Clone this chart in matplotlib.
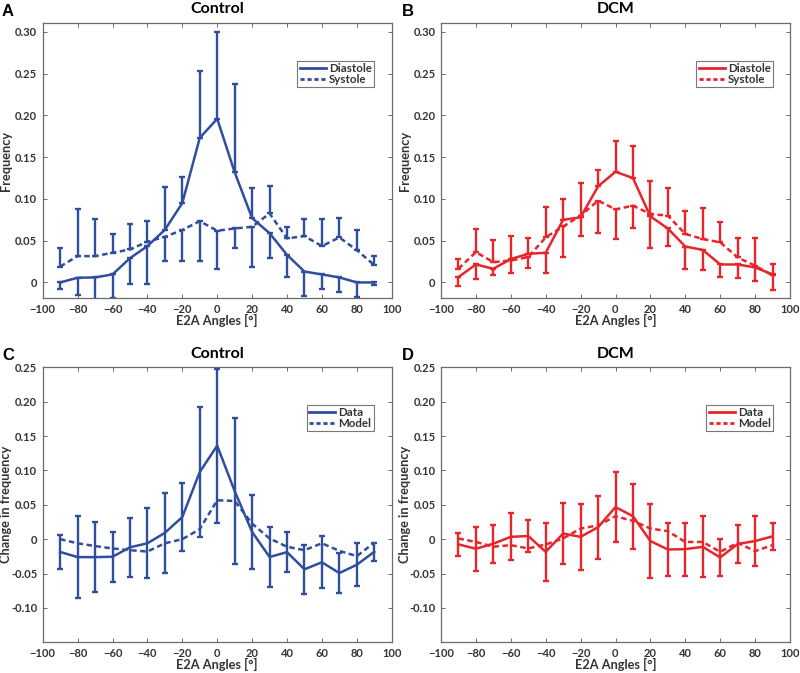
import matplotlib
matplotlib.use("Agg")
import matplotlib.pyplot as plt
import numpy as np
from matplotlib.lines import Line2D

plt.rcParams['font.family'] = ['Lato', 'DejaVu Sans']

angles = np.arange(-90, 91, 10)

# Panel A (Control): Diastole / Systole frequency; signed error (+ up, - down)
a_dia = [0.000, 0.0056, 0.006, 0.0096, 0.029, 0.0435, 0.063, 0.095, 0.173, 0.196,
         0.132, 0.077, 0.059, 0.033, 0.013, 0.0096, 0.006, 0.0, 0.0]
a_dia_err = [-0.008, -0.021, -0.03, -0.028, -0.031, -0.0455, 0.0515, 0.031, 0.080, 0.104,
             0.106, 0.0355, -0.0303, -0.026, -0.029, -0.0172, -0.018, -0.018, -0.003]
a_sys = [0.019, 0.0315, 0.0315, 0.0355, 0.0395, 0.0487, 0.0547, 0.0627, 0.0734, 0.0619,
         0.0646, 0.0666, 0.0826, 0.0527, 0.0555, 0.0435, 0.0539, 0.0387, 0.0208]
a_sys_err = [0.0225, 0.056, 0.044, 0.022, 0.030, 0.0247, -0.029, -0.037, -0.048, -0.046,
             -0.023, -0.048, 0.033, 0.014, 0.020, 0.033, 0.0235, 0.024, 0.0107]

# Panel B (DCM)
b_dia = [0.0064, 0.0215, 0.0164, 0.028, 0.0343, 0.0355, 0.075, 0.078, 0.115, 0.1325,
         0.125, 0.079, 0.0646, 0.043, 0.039, 0.0215, 0.0215, 0.018, 0.0096]
b_dia_err = [-0.0104, -0.017, -0.008, 0.027, 0.019, -0.0243, 0.0247, -0.023, 0.020, 0.037,
             0.038, -0.0375, -0.0207, -0.027, -0.024, -0.0144, -0.0164, -0.016, 0.0128]
b_sys = [0.0164, 0.0363, 0.0243, 0.0263, 0.0303, 0.054, 0.067, 0.080, 0.098, 0.0874,
         0.092, 0.082, 0.080, 0.058, 0.052, 0.048, 0.030, 0.020, 0.0084]
b_sys_err = [0.012, 0.028, 0.027, -0.015, -0.013, 0.036, -0.036, 0.039, -0.039, -0.0355,
             -0.027, 0.039, 0.0335, 0.027, 0.037, 0.024, 0.0227, 0.0335, -0.018]

# Panel C (Control): change in frequency, data (symmetric error) and model
c_data = [-0.0186, -0.0261, -0.0261, -0.0256, -0.0118, -0.006, 0.0092, 0.0322, 0.0977, 0.136,
          0.070, 0.0106, -0.0259, -0.0189, -0.0438, -0.0336, -0.0493, -0.0372, -0.0184]
c_err = [0.0249, 0.060, 0.0513, 0.0363, 0.0428, 0.051, 0.058, 0.049, 0.095, 0.112,
         0.1066, 0.0537, 0.0433, 0.0295, 0.036, 0.038, 0.0295, 0.031, 0.0135]
c_model = [0.0, -0.006, -0.010, -0.0135, -0.016, -0.018, -0.006, 0.0, 0.0145, 0.0566,
           0.0556, 0.0227, 0.001, -0.011, -0.016, -0.006, -0.017, -0.0247, -0.005]

# Panel D (DCM)
d_data = [-0.0075, -0.014, -0.0065, 0.0034, 0.0046, -0.0184, 0.0082, 0.0034, 0.0174, 0.0467,
          0.0334, -0.0027, -0.015, -0.0145, -0.0111, -0.0266, -0.007, -0.0027, 0.0041]
d_err = [0.0172, 0.032, 0.0278, 0.034, 0.023, 0.0426, 0.0445, 0.048, 0.046, 0.0505,
         0.047, 0.0534, 0.0387, 0.0387, 0.0445, 0.0266, 0.0283, 0.036, 0.020]
d_model = [0.001, -0.004, -0.011, -0.0087, -0.0135, -0.0077, 0.001, 0.0155, 0.020, 0.0334,
           0.0266, 0.0155, 0.0116, -0.004, -0.004, -0.0184, -0.0053, -0.0174, -0.0087]

xticks = list(range(-100, 101, 20))
freq_ticks = [0, 0.05, 0.10, 0.15, 0.20, 0.25, 0.30]
freq_labels = ['0', '0.05', '0.10', '0.15', '0.20', '0.25', '0.30']
chg_ticks = [-0.10, -0.05, 0, 0.05, 0.10, 0.15, 0.20, 0.25]
chg_labels = ['-0.10', '-0.05', '0', '0.05', '0.10', '0.15', '0.20', '0.25']

BLUE = '#2f4f9e'
RED = '#e8252b'
FRAME = '#6a6a6a'
TXT = '#333333'

fig = plt.figure(figsize=(8.0, 6.73), dpi=100)
W, H = 800.0, 673.0

def make_ax(left, top, right, bottom):
    return fig.add_axes([left / W, 1 - bottom / H, (right - left) / W, (bottom - top) / H])

def style(ax, yt, yl, ylim, title, ylabel, letter, letter_xy):
    ax.set_xlim(-100, 100)
    ax.set_ylim(*ylim)
    ax.set_xticks(xticks)
    ax.set_xticklabels([str(t).replace('-', '\u2212') for t in xticks])
    ax.set_yticks(yt)
    ax.set_yticklabels(yl)
    ax.tick_params(direction='in', length=3, width=0.7, color=FRAME,
                   top=True, right=True, labelsize=8, pad=4)
    for lab in ax.get_xticklabels() + ax.get_yticklabels():
        lab.set_fontweight('bold')
        lab.set_color(TXT)
    for sp in ax.spines.values():
        sp.set_color(FRAME)
        sp.set_linewidth(0.9)
    ax.set_title(title, fontsize=11.5, fontweight='bold', pad=7)
    ax.set_xlabel('E2A Angles [°]', fontsize=9.2, fontweight='bold', color=TXT)
    ax.xaxis.set_label_coords(0.5, -0.056)
    ax.set_ylabel(ylabel, fontsize=9.2, fontweight='bold', color=TXT)
    ax.yaxis.set_label_coords(-0.087, 0.5)
    # panel letter, position given in figure pixels
    fig.text(letter_xy[0] / W, 1 - letter_xy[1] / H, letter, fontsize=12,
             fontweight='bold', family='Liberation Sans', ha='left', va='center')

def signed_err(ax, x, y, e, color):
    e = np.asarray(e)
    lo = np.where(e < 0, -e, 0.0)
    hi = np.where(e > 0, e, 0.0)
    ax.errorbar(x, y, yerr=[lo, hi], fmt='none', ecolor=color, elinewidth=1.7,
                capsize=2.4, capthick=1.7)

def legend(ax, color, labels, anchor):
    h = [Line2D([], [], color=color, lw=2, ls='-'),
         Line2D([], [], color=color, lw=2, ls=(0, (1.5, 1.0)))]
    lg = ax.legend(h, labels, loc='upper right', bbox_to_anchor=anchor,
                   fontsize=8.3, frameon=True, fancybox=False, handlelength=2.3,
                   handletextpad=0.25, borderpad=0.2, labelspacing=0.0,
                   borderaxespad=0)
    lg.get_frame().set_edgecolor('#555555')
    lg.get_frame().set_linewidth(0.8)
    for t in lg.get_texts():
        t.set_fontweight('bold')
        t.set_color(TXT)

dash = (0, (2.2, 1.4))

# A
axA = make_ax(42.7, 22.7, 391.7, 298.3)
signed_err(axA, angles, a_dia, a_dia_err, BLUE)
signed_err(axA, angles, a_sys, a_sys_err, BLUE)
axA.plot(angles, a_dia, color=BLUE, lw=1.8)
axA.plot(angles, a_sys, color=BLUE, lw=1.8, ls=dash)
style(axA, freq_ticks, freq_labels, (-0.019, 0.311), 'Control', 'Frequency', 'A', (2, 11))
legend(axA, BLUE, ['Diastole', 'Systole'], (0.95, 0.862))

# B
axB = make_ax(441, 22.7, 790, 298.3)
signed_err(axB, angles, b_dia, b_dia_err, RED)
signed_err(axB, angles, b_sys, b_sys_err, RED)
axB.plot(angles, b_dia, color=RED, lw=1.8)
axB.plot(angles, b_sys, color=RED, lw=1.8, ls=dash)
style(axB, freq_ticks, freq_labels, (-0.019, 0.311), 'DCM', 'Frequency', 'B', (402, 11))
legend(axB, RED, ['Diastole', 'Systole'], (0.952, 0.862))

# C
axC = make_ax(42.7, 367.3, 391.7, 642.3)
axC.errorbar(angles, c_data, yerr=c_err, fmt='none', ecolor=BLUE, elinewidth=1.7,
             capsize=2.4, capthick=1.7)
axC.plot(angles, c_data, color=BLUE, lw=1.8)
axC.plot(angles, c_model, color=BLUE, lw=1.8, ls=dash)
style(axC, chg_ticks, chg_labels, (-0.15, 0.25), 'Control', 'Change in frequency', 'C', (2, 356))
legend(axC, BLUE, ['Data', 'Model'], (0.948, 0.864))

# D
axD = make_ax(441, 367.3, 790, 642.3)
axD.errorbar(angles, d_data, yerr=d_err, fmt='none', ecolor=RED, elinewidth=1.7,
             capsize=2.4, capthick=1.7)
axD.plot(angles, d_data, color=RED, lw=1.8)
axD.plot(angles, d_model, color=RED, lw=1.8, ls=dash)
style(axD, chg_ticks, chg_labels, (-0.15, 0.25), 'DCM', 'Change in frequency', 'D', (402, 356))
legend(axD, RED, ['Data', 'Model'], (0.952, 0.864))

fig.savefig('out.png', dpi=100)
